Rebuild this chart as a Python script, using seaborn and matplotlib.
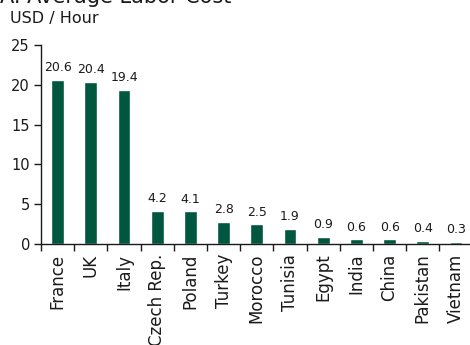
import matplotlib
matplotlib.use("Agg")
import matplotlib.pyplot as plt
from matplotlib.ticker import FixedLocator
import seaborn as sns
import pandas as pd

countries = ["France", "UK", "Italy", "Czech Rep.", "Poland", "Turkey", "Morocco",
             "Tunisia", "Egypt", "India", "China", "Pakistan", "Vietnam"]
cost = [20.6, 20.4, 19.4, 4.2, 4.1, 2.8, 2.5, 1.9, 0.9, 0.6, 0.6, 0.4, 0.3]
y_ticks = [0, 5, 10, 15, 20, 25]

sns.set_style("ticks")
plt.rcParams["font.family"] = ["DejaVu Sans"]
text_color = "#1a1a1a"

df = pd.DataFrame({"country": countries, "cost": cost})

fig = plt.figure(figsize=(4.70, 3.45), dpi=100)
ax = fig.add_axes([41 / 470, 1 - 244 / 345, 429 / 470, 199 / 345])

sns.barplot(data=df, x="country", y="cost", color="#00573f", width=0.39,
            saturation=1, ax=ax)

for i, v in enumerate(cost):
    ax.text(i, v + 0.7, f"{v:.1f}", ha="center", va="bottom",
            fontsize=9, color=text_color)

ax.set_ylim(0, 25)
ax.set_xlim(-0.5, -0.5 + 429 / 33.2)
ax.yaxis.set_major_locator(FixedLocator(y_ticks))
ax.tick_params(axis="y", labelsize=10.5, colors=text_color, length=5, width=1, pad=3)

# category separators as x ticks, labels centred under the bars
ax.xaxis.set_minor_locator(FixedLocator([i - 0.5 for i in range(len(countries) + 1)]))
ax.tick_params(axis="x", which="major", length=0, pad=7, labelsize=12,
               labelcolor=text_color, rotation=90)
ax.tick_params(axis="x", which="minor", length=5, width=1, color=text_color)
ax.set_xlabel("")
ax.set_ylabel("")

for side in ("top", "right"):
    ax.spines[side].set_visible(False)
for side in ("left", "bottom"):
    ax.spines[side].set_color(text_color)
    ax.spines[side].set_linewidth(1)

fig.text(0.0, 1 - 3 / 345, "A. Average Labor Cost", ha="left", va="baseline",
         fontsize=15, color=text_color)
fig.text(10 / 470, 1 - 19 / 345, "USD / Hour", ha="left", va="center",
         fontsize=11.5, color=text_color)

fig.savefig("out.png", dpi=100)
